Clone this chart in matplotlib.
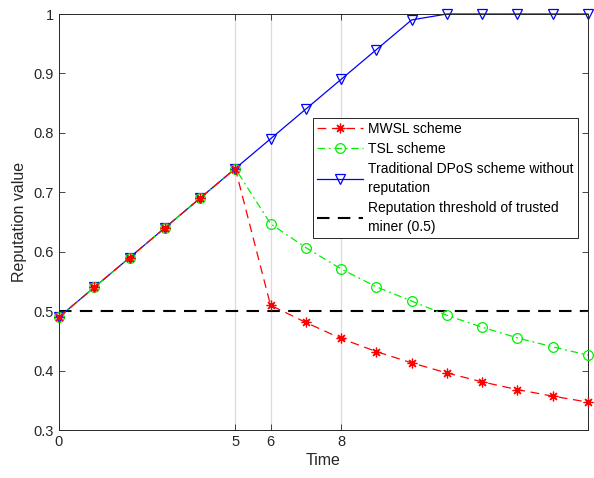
import matplotlib
matplotlib.use("Agg")
import matplotlib.pyplot as plt

plt.rcParams['font.family'] = ['Liberation Sans', 'DejaVu Sans']

time = list(range(16))
mwsl = [0.49, 0.54, 0.59, 0.64, 0.69, 0.74, 0.51, 0.481, 0.454, 0.432,
        0.413, 0.396, 0.381, 0.368, 0.357, 0.347]
tsl = [0.49, 0.54, 0.59, 0.64, 0.69, 0.74, 0.647, 0.607, 0.571, 0.541,
       0.517, 0.493, 0.473, 0.455, 0.440, 0.426]
dpos = [0.49, 0.54, 0.59, 0.64, 0.69, 0.74, 0.79, 0.84, 0.89, 0.94,
        0.99, 1.0, 1.0, 1.0, 1.0, 1.0]
threshold = 0.5
xticks = [0, 5, 6, 8]
yticks = [0.3, 0.4, 0.5, 0.6, 0.7, 0.8, 0.9, 1.0]
ylabels = ['0.3', '0.4', '0.5', '0.6', '0.7', '0.8', '0.9', '1']

fig = plt.figure(figsize=(5.94, 4.78), dpi=100)
ax = fig.add_axes([0.0993, 0.1004, 0.8904, 0.8703])

for xv in [5, 6, 8]:
    ax.axvline(xv, color='#dcdcdc', lw=0.9, zorder=0)

ax.plot(time, mwsl, color='red', ls=(0, (7, 4.5)), lw=0.9, marker=(8, 2, 0), ms=7,
        mew=0.9, label='MWSL scheme', zorder=4, clip_on=False)
ax.plot(time, tsl, color='#00f000', ls=(0, (6, 3, 1.5, 3)), lw=0.9, marker='o', ms=7,
        mfc='none', mew=0.9, label='TSL scheme', zorder=3, clip_on=False)
ax.plot(time, dpos, color='blue', ls='-', lw=0.9, marker='v', ms=7.5,
        mfc='none', mew=0.9, label='Traditional DPoS scheme without\nreputation',
        zorder=2, clip_on=False)
ax.axhline(threshold, color='black', ls=(0, (6, 4)), lw=1.5,
           label='Reputation threshold of trusted\nminer (0.5)', zorder=1)

ax.set_xlim(0, 15)
ax.set_ylim(0.3, 1.0)
ax.set_xticks(xticks)
ax.set_yticks(yticks)
ax.set_yticklabels(ylabels)
ax.tick_params(direction='in', top=True, right=True, labelsize=10.5,
               colors='#262626', length=4, width=0.6)
for s in ax.spines.values():
    s.set_color('#262626')
    s.set_linewidth(0.7)
ax.set_xlabel('Time', fontsize=11.5, color='#262626', labelpad=3)
ax.set_ylabel('Reputation value', fontsize=11.5, color='#262626', labelpad=5)

leg = ax.legend(loc='upper left', bbox_to_anchor=(0.48, 0.75), borderaxespad=0,
                fontsize=10, fancybox=False, edgecolor='#262626', framealpha=1,
                handlelength=3.3, handletextpad=0.4, labelspacing=0.42,
                borderpad=0.3)
leg.get_frame().set_linewidth(0.7)
for t in leg.get_texts():
    t.set_linespacing(1.45)

fig.savefig('out.png', dpi=100)
